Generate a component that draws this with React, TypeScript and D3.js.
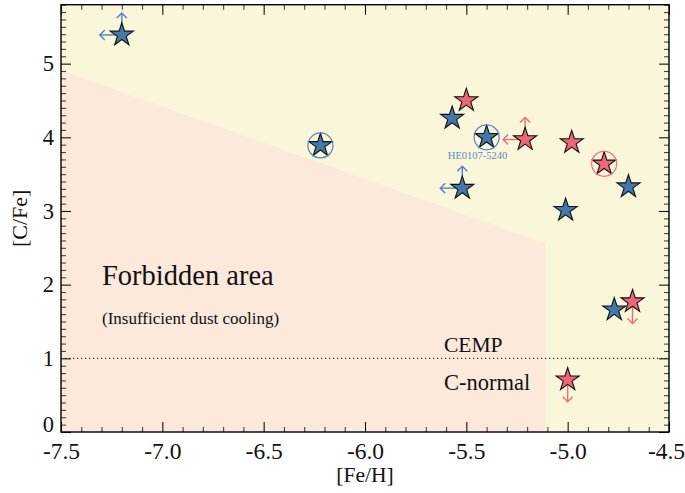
import React, { useEffect, useRef } from 'react';
import * as d3 from 'd3';

// [Fe/H] / [C/Fe] of the two groups of stars
const blueFeH = [-7.2, -6.22, -5.57, -5.4, -5.52, -5.01, -4.7, -4.77];
const blueCFe = [5.39, 3.89, 4.26, 4.0, 3.31, 3.01, 3.33, 1.66];
const blueCircled = [false, true, false, true, false, false, false, false];
const blueLimits = ['lu', '', '', '', 'lu', '', '', ''];

const redFeH = [-5.5, -5.21, -4.98, -4.82, -4.68, -5.0];
const redCFe = [4.5, 3.97, 3.93, 3.64, 1.77, 0.71];
const redCircled = [false, false, false, true, false, false];
const redLimits = ['', 'lu', '', '', 'd', 'd'];

// forbidden zone outline
const forbiddenFeH = [-7.5, -5.11, -5.11, -7.5];
const forbiddenCFe = [4.91, 2.56, 0, 0];

const xMajor = [-7.5, -7.0, -6.5, -6.0, -5.5, -5.0, -4.5];
const yMajor = [0, 1, 2, 3, 4, 5];

const FONT = '"Liberation Serif", "Times New Roman", serif';

export default function App() {
  const svgRef = useRef<SVGSVGElement>(null);

  useEffect(() => {
    if (!svgRef.current) return;
    const W = 685, H = 493;
    const left = 61, right = 669, top = 4.7, bottom = 432;

    const svg = d3.select(svgRef.current).attr('width', W).attr('height', H);
    svg.selectAll('*').remove();

    const x = d3.scaleLinear().domain([-7.5, -4.5]).range([left, right]);
    const y = d3.scaleLinear().domain([0, 5.8]).range([bottom, top]);

    // background
    svg.append('rect')
      .attr('x', left).attr('y', top)
      .attr('width', right - left).attr('height', bottom - top)
      .attr('fill', '#f9f6da');

    svg.append('path')
      .datum(d3.range(forbiddenFeH.length))
      .attr('fill', '#fde9dc')
      .attr('d', d3.line<number>().x(i => x(forbiddenFeH[i])).y(i => y(forbiddenCFe[i])).curve(d3.curveLinearClosed));

    // CEMP threshold
    svg.append('line')
      .attr('x1', left).attr('x2', right)
      .attr('y1', y(1)).attr('y2', y(1))
      .attr('stroke', '#000').attr('stroke-width', 1)
      .attr('stroke-dasharray', '1.2,2.8');

    // ticks
    const xMinor = d3.range(-75, -44).map(v => v / 10).filter(v => !xMajor.some(m => Math.abs(m - v) < 1e-6));
    const yMinor = d3.range(0, 59).map(v => v / 10).filter(v => !yMajor.some(m => Math.abs(m - v) < 1e-6));

    const addAxis = (axis: any, tx: number, ty: number, major: boolean, fs = 22) => {
      const g = svg.append('g').attr('transform', `translate(${tx},${ty})`).call(axis);
      g.select('.domain').remove();
      g.selectAll('.tick line').attr('stroke', major ? '#111' : '#444').attr('stroke-width', 1.1);
      g.selectAll('text').attr('font-family', FONT).attr('font-size', fs).attr('fill', '#111');
      return g;
    };

    const bx = addAxis(d3.axisBottom(x).tickValues(xMajor).tickSize(-10).tickPadding(10)
      .tickFormat(d => (d as number).toFixed(1)), 0, bottom, true, 23.5);
    bx.selectAll<SVGTextElement, number>('text').attr('dx', d => (d === -4.5 ? -3 : 0));
    addAxis(d3.axisBottom(x).tickValues(xMinor).tickSize(-5).tickFormat(() => ''), 0, bottom, false);
    addAxis(d3.axisTop(x).tickValues(xMajor).tickSize(-10).tickFormat(() => ''), 0, top, true);
    addAxis(d3.axisTop(x).tickValues(xMinor).tickSize(-5).tickFormat(() => ''), 0, top, false);
    const ly = addAxis(d3.axisLeft(y).tickValues(yMajor).tickSize(-10).tickPadding(7).tickFormat(d => String(d)), left, 0, true, 22.5);
    ly.selectAll<SVGTextElement, number>('text').attr('y', d => (d === 0 ? -8 : 0));
    addAxis(d3.axisLeft(y).tickValues(yMinor).tickSize(-5).tickFormat(() => ''), left, 0, false);
    addAxis(d3.axisRight(y).tickValues(yMajor).tickSize(-10).tickFormat(() => ''), right, 0, true);
    addAxis(d3.axisRight(y).tickValues(yMinor).tickSize(-5).tickFormat(() => ''), right, 0, false);

    // frame
    svg.append('rect')
      .attr('x', left).attr('y', top)
      .attr('width', right - left).attr('height', bottom - top)
      .attr('fill', 'none').attr('stroke', '#000').attr('stroke-width', 1.4);

    // region labels
    const text = (s: string, tx: number, ty: number, size: number, anchor = 'start', color = '#111') =>
      svg.append('text').attr('x', tx).attr('y', ty).attr('font-family', FONT)
        .attr('font-size', size).attr('text-anchor', anchor).attr('fill', color).text(s);

    text('Forbidden area', 102, 285, 28.5);
    text('(Insufficient dust cooling)', 102, 324, 17);
    text('CEMP', 444, 352, 21.5);
    text('C-normal', 444, 390, 22.5);

    // axis titles
    text('[Fe/H]', (left + right) / 2, 482, 21.5, 'middle');
    svg.append('text')
      .attr('transform', `translate(27,${(top + bottom) / 2}) rotate(-90)`)
      .attr('font-family', FONT).attr('font-size', 22).attr('text-anchor', 'middle')
      .attr('fill', '#111').text('[C/Fe]');

    const star = d3.symbol().type(d3.symbolStar).size(165);
    const ARROW = 22;

    const drawGroup = (fe: number[], cfe: number[], circled: boolean[], limits: string[], fill: string, arrowColor: string) => {
      const g = svg.append('g');
      fe.forEach((v, i) => {
        const cx = x(v), cy = y(cfe[i]);
        const lim = limits[i];
        const arrows: [number, number][] = [];
        if (lim.includes('l')) arrows.push([-1, 0]);
        if (lim.includes('u')) arrows.push([0, -1]);
        if (lim.includes('d')) arrows.push([0, 1]);
        arrows.forEach(([dx, dy]) => {
          const ex = cx + dx * ARROW, ey = cy + dy * ARROW;
          g.append('line').attr('x1', cx).attr('y1', cy).attr('x2', ex).attr('y2', ey)
            .attr('stroke', arrowColor).attr('stroke-width', 1.4);
          const h = 5;
          // open arrow head
          const px = -dy, py = dx;
          g.append('path')
            .attr('d', `M${ex - dx * h + px * h},${ey - dy * h + py * h}L${ex},${ey}L${ex - dx * h - px * h},${ey - dy * h - py * h}`)
            .attr('fill', 'none').attr('stroke', arrowColor).attr('stroke-width', 1.4);
        });
      });
      fe.forEach((v, i) => {
        const cx = x(v), cy = y(cfe[i]);
        g.append('path').attr('d', star()!)
          .attr('transform', `translate(${cx},${cy})`)
          .attr('fill', fill).attr('stroke', '#111').attr('stroke-width', 1.1)
          .attr('stroke-linejoin', 'miter');
        if (circled[i]) {
          g.append('circle').attr('cx', cx).attr('cy', cy).attr('r', 12.5)
            .attr('fill', 'none').attr('stroke', arrowColor).attr('stroke-width', 1.2);
        }
      });
    };

    drawGroup(blueFeH, blueCFe, blueCircled, blueLimits, '#4477aa', '#4f83c2');
    drawGroup(redFeH, redCFe, redCircled, redLimits, '#ee6677', '#f06b7d');

    text('HE0107-5240', x(-5.4) - 9, 159, 10.5, 'middle', '#5b8ac2');
  }, []);

  return (
    <svg ref={svgRef} style={{ position: 'absolute', left: 0, top: 0, display: 'block' }}></svg>
  );
}
